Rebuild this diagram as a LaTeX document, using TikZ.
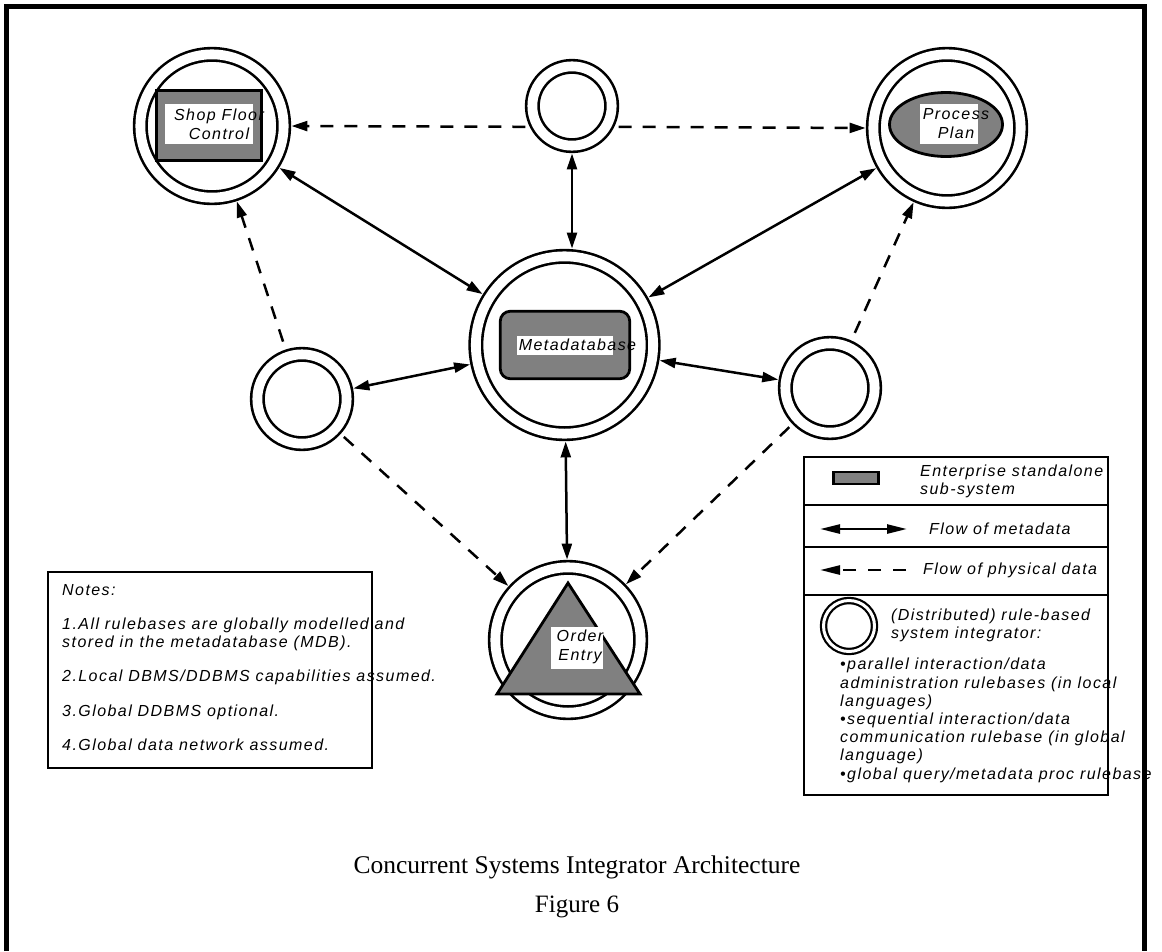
\documentclass[tikz,border=0pt]{standalone}
\usepackage{fontspec}
\setmainfont{Liberation Serif}
\newfontfamily\diagfont[LetterSpace=9]{Liberation Sans}
\usetikzlibrary{positioning}
\usetikzlibrary{arrows.meta}
\usetikzlibrary{shapes.geometric}

\definecolor{sysgray}{RGB}{128,128,128}

\tikzset{
  integ/.style={circle, draw, line width=2.6pt, double, double distance=9.8pt, inner sep=0pt, outer sep=7.8pt},
  subsys/.style={draw, fill=sysgray, line width=2.8pt, inner sep=0pt},
  whitelbl/.style={fill=white, inner sep=0pt},
  lbl/.style={font=\diagfont\itshape\fontsize{16}{19}\selectfont, align=center, inner sep=0pt},
  legtext/.style={font=\diagfont\itshape\fontsize{16}{18.2}\selectfont, align=left, inner sep=0pt},
  metaflow/.style={line width=2.5pt, <->},
  physflow/.style={line width=2.5pt, dash pattern=on 13pt off 11pt, ->},
  boxframe/.style={draw, line width=2.8pt, inner sep=0pt}
}

\begin{document}
\begin{tikzpicture}[x=1pt, y=-1pt, >={Triangle[length=16pt,width=10pt]}]

    \useasboundingbox (0,0) rectangle (1162,951);
    \draw[line width=5pt] (6,951) -- (6,6) -- (1144,6) -- (1144,951);

    \node[integ, minimum size=143.3] (sfc) at (212,126) {};
    \node[subsys, minimum width=105, minimum height=70] (sfcbox) at (209,125.5) {};
    \node[whitelbl, minimum width=88, minimum height=40] (sfcwhite) at (209,124) {};
    \node[lbl] (sfclbl) at (219,124) {Shop Floor\\Control};

    \node[integ, minimum size=79.3] (mid) at (572,106) {};

    \node[integ, minimum size=147.3] (pp) at (947,128) {};
    \node[subsys, ellipse, minimum width=113, minimum height=64] (ppbox) at (946,124.5) {};
    \node[whitelbl, minimum width=58, minimum height=40] (ppwhite) at (949,124) {};
    \node[lbl] (pplbl) at (956,124) {Process\\Plan};

    \node[integ, minimum size=177.3] (mdb) at (564.5,345) {};
    \node[subsys, rounded corners=10pt, minimum width=129.5, minimum height=67.5] (mdbbox) at (565,345) {};
    \node[whitelbl, minimum width=96, minimum height=19] (mdbwhite) at (565,345.5) {};
    \node[lbl] (mdblbl) at (577.5,345) {Metadatabase};

    \node[integ, minimum size=89.3] (lsi) at (302,399) {};
    \node[integ, minimum size=89.3] (rsi) at (830,388) {};

    \node[integ, minimum size=145.3] (oe) at (568,640) {};
    \draw[subsys] (568,583) -- (640,694) -- (497,694) -- cycle;
    \node[whitelbl, minimum width=52, minimum height=42] (oewhite) at (577,648) {};
    \node[lbl] (oelbl) at (580,647) {Order\\Entry};

    \draw[physflow, shorten <=4pt] (mid.206) -- (sfc.east);
    \draw[physflow, shorten <=4pt] (mid.-26) -- (pp.west);
    \draw[metaflow] (mid.south) -- (mid.south |- mdb.north);
    \draw[metaflow] (sfc) -- (mdb);
    \draw[metaflow] (pp) -- (mdb);
    \draw[metaflow] (lsi) -- (mdb);
    \draw[metaflow] (rsi) -- (mdb);
    \draw[metaflow] (mdb) -- (oe);
    \draw[physflow, shorten <=8pt] (lsi) -- (sfc);
    \draw[physflow, shorten <=8pt] (rsi) -- (pp);
    \draw[physflow, shorten <=4pt] (lsi) -- (oe);
    \draw[physflow, shorten <=4pt] (rsi) -- (oe);

    \node[boxframe, minimum width=324, minimum height=196] (notes) at (210,670) {};
    \node[legtext, anchor=north west] (notestext) at (62,584) {Notes:\\[16pt]
        1.All rulebases are globally modelled and\\
        stored in the metadatabase (MDB).\\[16pt]
        2.Local DBMS/DDBMS capabilities assumed.\\[16pt]
        3.Global DDBMS optional.\\[16pt]
        4.Global data network assumed.};

    \node[boxframe, minimum width=304, minimum height=338] (legend) at (956,626) {};
    \draw[line width=2.8pt] (804,505) -- (1108,505);
    \draw[line width=2.8pt] (804,547) -- (1108,547);
    \draw[line width=2.8pt] (804,595) -- (1108,595);

    \node[subsys, line width=2.2pt, minimum width=45, minimum height=12] (legsys) at (856,478) {};
    \node[legtext, anchor=west] (legsystext) at (920,481) {Enterprise standalone\\sub-system};

    \coordinate (metaL) at (820,529);
    \coordinate (metaR) at (907,529);
    \draw[metaflow, >={Triangle[length=20pt,width=9pt]}] (metaL) -- (metaR);
    \node[legtext, anchor=west] (metatext) at (929,529) {Flow of metadata};

    \coordinate (physL) at (820,570);
    \coordinate (physR) at (906,570);
    \draw[physflow, dash pattern=on 13pt off 12pt, >={Triangle[length=20pt,width=9pt]}] (physR) -- (physL);
    \node[legtext, anchor=west] (phystext) at (923,570) {Flow of physical data};

    \node[circle, draw, line width=2.2pt, double, double distance=3pt, inner sep=0pt, minimum size=51] (legint) at (849,626) {};
    \node[legtext, anchor=west] (leginttext) at (891,625) {(Distributed) rule-based\\system integrator:};

    \node[legtext, anchor=north west] (bullets) at (840,658) {•parallel interaction/data\\
        administration rulebases (in local\\
        languages)\\
        •sequential interaction/data\\
        communication rulebase (in global\\
        language)\\
        •global query/metadata proc rulebase};

    \node[font=\fontsize{25.5}{28}\selectfont] (caption) at (577,867) {Concurrent Systems Integrator Architecture};
    \node[font=\fontsize{25}{28}\selectfont] (fignum) at (577,907) {Figure 6};

\end{tikzpicture}
\end{document}
